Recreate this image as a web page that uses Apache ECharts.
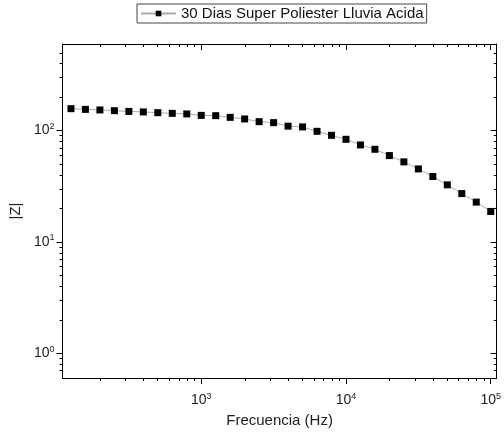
<!DOCTYPE html>
<html>
<head>
<meta charset="utf-8">
<script src="https://cdn.jsdelivr.net/npm/echarts@6/dist/echarts.min.js"></script>
<style>html,body{margin:0;padding:0;background:#fff}#c{width:504px;height:433px}</style>
</head>
<body>
<div id="c"></div>
<script>
const seriesName = '30 Dias Super Poliester Lluvia Acida';
const frequency = [125.9, 158.5, 199.5, 251.2, 316.2, 398.1, 501.2, 631.0, 794.3, 1000,
  1259, 1585, 1995, 2512, 3162, 3981, 5012, 6310, 7943, 10000,
  12589, 15849, 19953, 25119, 31623, 39811, 50119, 63096, 79433, 100000];
const impedance = [157.5, 155.2, 153.3, 151.1, 148.9, 147.2, 145.0, 142.9, 141.2, 137.1,
  136.3, 131.6, 127.3, 120.4, 118.0, 109.7, 108.0, 98.6, 90.7, 83.6,
  74.4, 68.0, 59.7, 52.4, 45.3, 38.7, 32.6, 27.2, 22.8, 18.8];
const xMajorTicks = [1000, 10000, 100000];
const xMinorTicks = [200, 300, 400, 500, 600, 700, 800, 900,
  2000, 3000, 4000, 5000, 6000, 7000, 8000, 9000,
  20000, 30000, 40000, 50000, 60000, 70000, 80000, 90000];
const yMajorTicks = [1, 10, 100];
const yMinorTicks = [0.7, 0.8, 0.9, 2, 3, 4, 5, 6, 7, 8, 9,
  20, 30, 40, 50, 60, 70, 80, 90, 200, 300, 400, 500];
const xRange = [110, 110000];
const yRange = [0.6, 600];

const FONT = 'Liberation Sans, Arial, sans-serif';
const axisColor = '#000';
const rich = {
  b: { fontSize: 14, fontFamily: FONT, color: '#222' },
  s: { fontSize: 9, fontFamily: FONT, color: '#222', padding: [0, 0, 8, 0] }
};
function powFmt(v) {
  const e = Math.round(Math.log10(v));
  return '{b|10}{s|' + e + '}';
}
function makeAxis(pos, range, ticks, len, inside, label, extra) {
  const ax = {
    type: 'log', logBase: 10, position: pos, min: range[0], max: range[1],
    axisLine: { show: label, onZero: false, lineStyle: { color: axisColor, width: 1 } },
    axisTick: { show: true, inside: inside, length: len, customValues: ticks,
      lineStyle: { color: axisColor, width: 1 } },
    minorTick: { show: false },
    axisLabel: label ? { show: true, customValues: ticks, formatter: powFmt, rich: rich } : { show: false },
    splitLine: { show: false }
  };
  return Object.assign(ax, extra || {});
}

const chart = echarts.init(document.getElementById('c'), null, { renderer: 'canvas' });
chart.setOption({
  animation: false,
  backgroundColor: '#fff',
  grid: { left: 61, right: 6, top: 44, bottom: 54 },
  legend: {
    left: 137, top: 4,
    padding: [2, 3, 2, 3],
    borderColor: '#444', borderWidth: 1,
    itemWidth: 35, itemHeight: 7, itemGap: 5,
    textStyle: { fontSize: 15, fontFamily: FONT, color: '#111' },
    data: [seriesName]
  },
  xAxis: [
    makeAxis('bottom', xRange, xMajorTicks, 6, false, true, {
      name: 'Frecuencia (Hz)', nameLocation: 'middle', nameGap: 35,
      nameTextStyle: { fontSize: 15, fontFamily: FONT, color: '#222' },
      axisLabel: { show: true, customValues: xMajorTicks, formatter: powFmt, rich: rich, margin: 14 }
    }),
    makeAxis('bottom', xRange, xMinorTicks, 3, false, false),
    makeAxis('top', xRange, xMajorTicks, 6, true, false, {
      axisLine: { show: true, onZero: false, lineStyle: { color: axisColor, width: 1 } } }),
    makeAxis('top', xRange, xMinorTicks, 3, true, false)
  ],
  yAxis: [
    makeAxis('left', yRange, yMajorTicks, 6, false, true, {
      name: '|Z|', nameLocation: 'middle', nameGap: 37,
      nameTextStyle: { fontSize: 15, fontFamily: FONT, color: '#222' },
      axisLabel: { show: true, customValues: yMajorTicks, formatter: powFmt, rich: rich, margin: 8 }
    }),
    makeAxis('left', yRange, yMinorTicks, 3, false, false),
    makeAxis('right', yRange, yMajorTicks, 6, true, false, {
      axisLine: { show: true, onZero: false, lineStyle: { color: axisColor, width: 1 } } }),
    makeAxis('right', yRange, yMinorTicks, 3, true, false)
  ],
  series: [{
    name: seriesName,
    type: 'line',
    xAxisIndex: 0, yAxisIndex: 0,
    data: frequency.map((f, i) => [f, impedance[i]]),
    symbol: 'rect', symbolSize: 7,
    itemStyle: { color: '#000' },
    lineStyle: { color: '#aaa', width: 1 }
  }]
});
</script>
</body>
</html>
